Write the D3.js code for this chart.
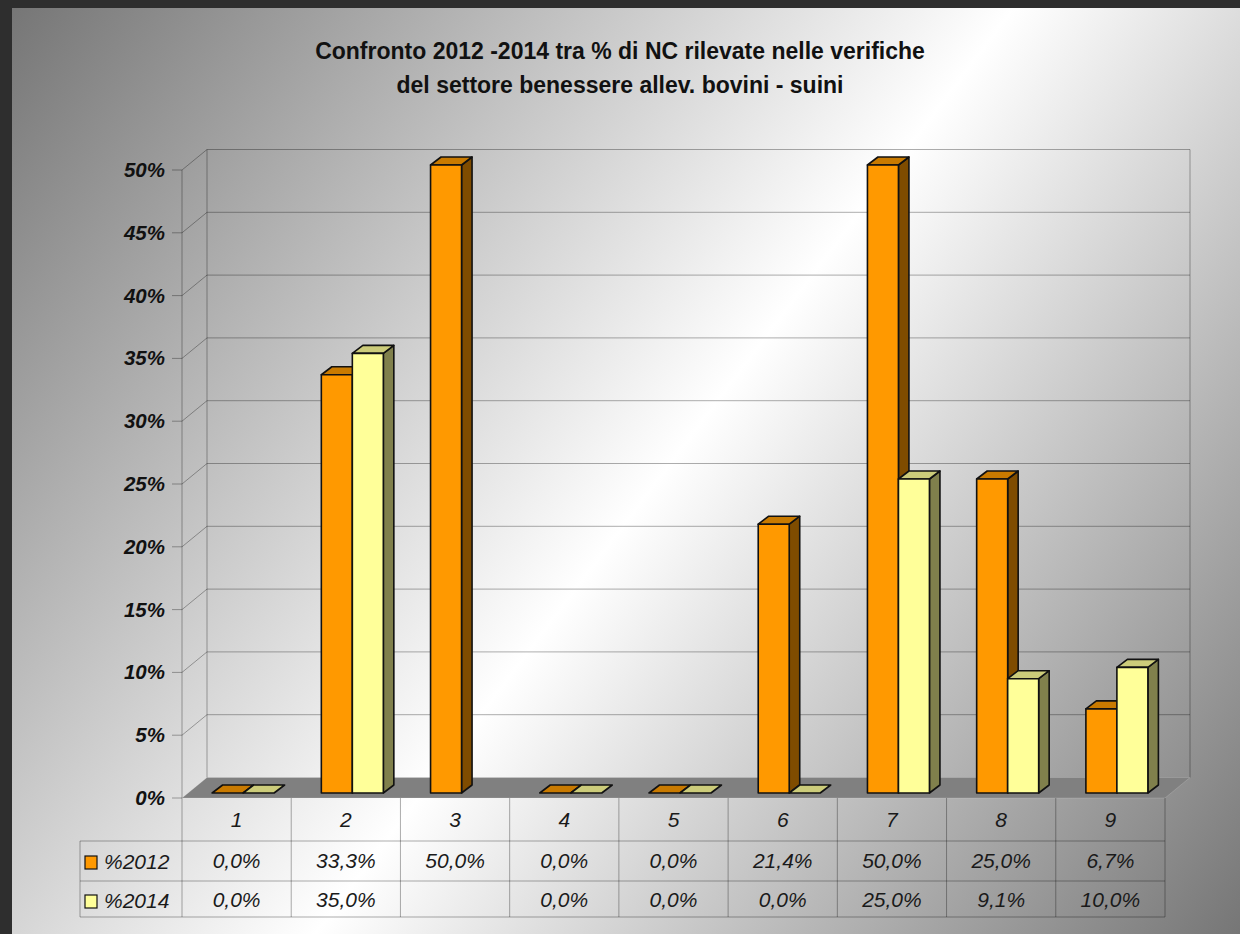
<!DOCTYPE html>
<html>
<head>
<meta charset="utf-8">
<script src="https://cdn.jsdelivr.net/npm/d3@7"></script>
<style>
  html, body { margin: 0; padding: 0; background: #2e2e2e; }
  svg { display: block; }
  text { font-family: "Liberation Sans", Arial, sans-serif; }
</style>
</head>
<body>
<svg id="chart" width="1240" height="934"></svg>
<script>
// ---- data ----
const titleLines = ["Confronto 2012 -2014 tra % di NC rilevate nelle verifiche",
                    "del settore benessere allev. bovini - suini"];
const categories = ["1", "2", "3", "4", "5", "6", "7", "8", "9"];
const seriesNames = ["%2012", "%2014"];
const values2012 = [0.0, 33.3, 50.0, 0.0, 0.0, 21.4, 50.0, 25.0, 6.7];
const values2014 = [0.0, 35.0, null, 0.0, 0.0, 0.0, 25.0, 9.1, 10.0];
const yTicks = [0, 5, 10, 15, 20, 25, 30, 35, 40, 45, 50];

const seriesValues = [values2012, values2014];
const faceColors = [
  { front: "#ff9900", top: "#c97a00", side: "#7f4c00" },
  { front: "#ffff99", top: "#cccc7a", side: "#80804c" }
];

const svg = d3.select("#chart");
const W = 1240, H = 934;

// ---- background ----
const defs = svg.append("defs");
const grad = defs.append("linearGradient").attr("id", "bg")
  .attr("gradientUnits", "userSpaceOnUse")
  .attr("x1", 12).attr("y1", 8).attr("x2", W).attr("y2", H);
grad.append("stop").attr("offset", 0).attr("stop-color", "#767676");
grad.append("stop").attr("offset", 0.52).attr("stop-color", "#ffffff");
grad.append("stop").attr("offset", 1).attr("stop-color", "#767676");
svg.append("rect").attr("x", 0).attr("y", 0).attr("width", W).attr("height", H).attr("fill", "#2e2e2e");
svg.append("rect").attr("x", 12).attr("y", 8).attr("width", W - 12).attr("height", H - 8).attr("fill", "url(#bg)");

// ---- title ----
svg.append("g").selectAll("text").data(titleLines).join("text")
  .attr("x", 620).attr("y", (d, i) => 59 + i * 34)
  .attr("text-anchor", "middle")
  .attr("font-weight", "bold").attr("font-size", 23).attr("fill", "#111")
  .text(d => d);

// ---- scales / geometry ----
const frontLeft = 182, frontRight = 1165, frontBottom = 798;
const depthDX = 25, depthDY = -20.5;
const x = d3.scaleBand().domain(categories).range([frontLeft, frontRight]).padding(0);
const y = d3.scaleLinear().domain([0, 50]).range([frontBottom, 170]);
const sub = d3.scaleBand().domain(seriesNames).range([-31, 31]).padding(0);
const barShiftX = 6.5, barShiftY = -5;   // bars sit slightly behind the front edge
const barDX = 10.5, barDY = -8;          // bar depth

const gridColor = "rgba(0,0,0,0.32)";

// floor
svg.append("path")
  .attr("d", d3.line()([[frontLeft, frontBottom], [frontLeft + depthDX, frontBottom + depthDY],
                        [frontRight + depthDX, frontBottom + depthDY], [frontRight, frontBottom]]) + "Z")
  .attr("fill", "#808080").attr("stroke", "rgba(255,255,255,0.15)").attr("stroke-width", 1);

// back wall gridlines + side wall diagonals + ticks
const grid = svg.append("g").attr("fill", "none").attr("stroke", gridColor).attr("stroke-width", 1);
grid.selectAll("line.h").data(yTicks.filter(t => t > 0)).join("line").attr("class", "h")
  .attr("x1", frontLeft + depthDX).attr("x2", frontRight + depthDX)
  .attr("y1", d => y(d) + depthDY).attr("y2", d => y(d) + depthDY);
grid.selectAll("line.d").data(yTicks.filter(t => t > 0)).join("line").attr("class", "d")
  .attr("x1", frontLeft).attr("x2", frontLeft + depthDX)
  .attr("y1", d => y(d)).attr("y2", d => y(d) + depthDY);
grid.selectAll("line.t").data(yTicks).join("line").attr("class", "t")
  .attr("x1", frontLeft - 10).attr("x2", frontLeft)
  .attr("y1", d => y(d)).attr("y2", d => y(d));
grid.append("line").attr("x1", frontLeft).attr("x2", frontLeft).attr("y1", y(50)).attr("y2", frontBottom);
grid.append("line").attr("x1", frontLeft + depthDX).attr("x2", frontLeft + depthDX)
  .attr("y1", y(50) + depthDY).attr("y2", frontBottom + depthDY);
grid.append("line").attr("x1", frontRight + depthDX).attr("x2", frontRight + depthDX)
  .attr("y1", y(50) + depthDY).attr("y2", frontBottom + depthDY);

// y labels
svg.append("g").selectAll("text").data(yTicks).join("text")
  .attr("x", 165).attr("y", d => y(d) + 7)
  .attr("text-anchor", "end")
  .attr("font-weight", "bold").attr("font-style", "italic").attr("font-size", 20.5)
  .attr("fill", "#111")
  .text(d => d + "%");

// ---- 3D bars ----
const bars = [];
categories.forEach((c, ci) => {
  seriesNames.forEach((s, si) => {
    const v = seriesValues[si][ci];
    if (v === null || v === undefined) return;
    bars.push({ c, s, si, v });
  });
});
const barG = svg.append("g")
  .attr("stroke", "#111").attr("stroke-width", 1.6).attr("stroke-linejoin", "round");
bars.forEach(b => {
  const x0 = x(b.c) + x.bandwidth() / 2 + barShiftX + sub(b.s);
  const x1 = x0 + sub.bandwidth();
  const yb = y(0) + barShiftY;
  const yt = y(b.v) + barShiftY;
  const col = faceColors[b.si];
  const g = barG.append("g");
  if (b.v > 0) {
    g.append("path").attr("fill", col.side)
      .attr("d", d3.line()([[x1, yb], [x1 + barDX, yb + barDY], [x1 + barDX, yt + barDY], [x1, yt]]) + "Z");
  }
  g.append("path").attr("fill", col.top)
    .attr("d", d3.line()([[x0, yt], [x1, yt], [x1 + barDX, yt + barDY], [x0 + barDX, yt + barDY]]) + "Z");
  if (b.v > 0) {
    g.append("rect").attr("fill", col.front)
      .attr("x", x0).attr("y", yt).attr("width", x1 - x0).attr("height", yb - yt);
  }
});

// ---- data table ----
const rowTop = frontBottom, row1 = 841, row2 = 881, row3 = 917, tableLeft = 80;
const fmt = d3.formatLocale({ decimal: ",", thousands: ".", grouping: [3], currency: ["", "€"] }).format(".1f");
const tg = svg.append("g").attr("stroke", gridColor).attr("stroke-width", 1).attr("fill", "none");
[row1, row2, row3].forEach(yy => {
  tg.append("line").attr("x1", tableLeft).attr("x2", frontRight).attr("y1", yy).attr("y2", yy);
});
tg.append("line").attr("x1", tableLeft).attr("x2", tableLeft).attr("y1", row1).attr("y2", row3);
tg.selectAll("line.v").data(categories.concat(["end"])).join("line").attr("class", "v")
  .attr("x1", (d, i) => i < categories.length ? x(d) : frontRight)
  .attr("x2", (d, i) => i < categories.length ? x(d) : frontRight)
  .attr("y1", rowTop).attr("y2", row3);

const txt = svg.append("g").attr("font-style", "italic").attr("font-size", 21).attr("fill", "#1a1a1a")
  .attr("text-anchor", "middle");
txt.selectAll("text.cat").data(categories).join("text").attr("class", "cat")
  .attr("x", d => x(d) + x.bandwidth() / 2).attr("y", 827).text(d => d);
seriesNames.forEach((s, si) => {
  const base = si === 0 ? 868 : 907;
  txt.selectAll("text.v" + si).data(seriesValues[si]).join("text").attr("class", "v" + si)
    .attr("x", (d, i) => x(categories[i]) + x.bandwidth() / 2).attr("y", base)
    .text(d => d === null ? "" : fmt(d) + "%");
});

// legend keys in table
const lg = svg.append("g");
seriesNames.forEach((s, si) => {
  const base = si === 0 ? 868 : 907;
  lg.append("rect").attr("x", 85).attr("y", base - 12).attr("width", 12).attr("height", 13)
    .attr("fill", faceColors[si].front).attr("stroke", "#111").attr("stroke-width", 1.2);
  lg.append("text").attr("x", 104).attr("y", base + 1)
    .attr("font-style", "italic").attr("font-size", 21).attr("fill", "#1a1a1a").text(s);
});
</script>
</body>
</html>
